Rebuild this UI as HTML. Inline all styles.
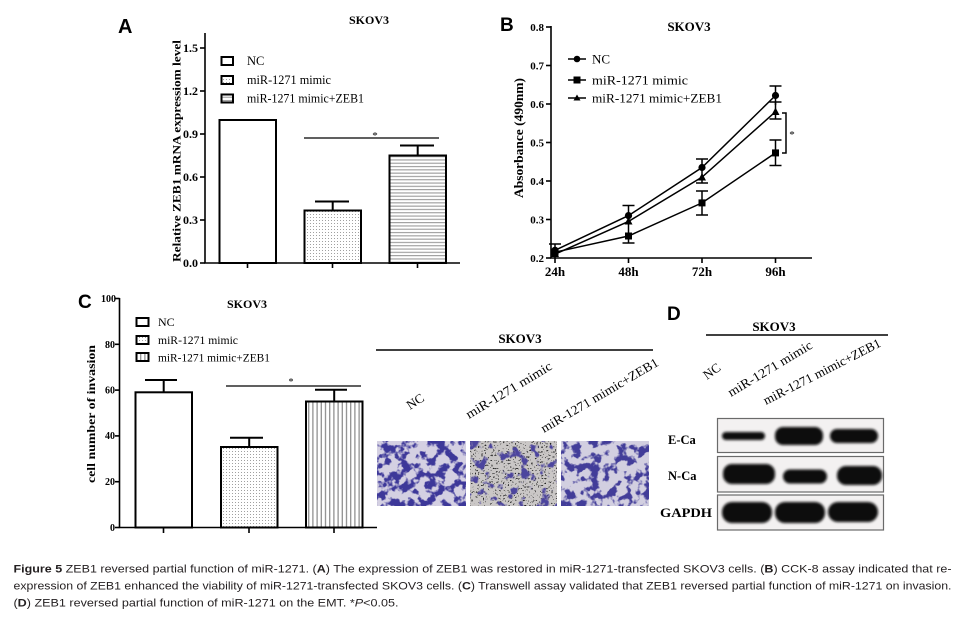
<!DOCTYPE html>
<html><head><meta charset="utf-8"><style>
html,body{margin:0;padding:0;background:#fff;}
svg{display:block;}
.s{font-family:"Liberation Serif",serif;}
.b{font-weight:bold;}
.p{font-family:"Liberation Sans",sans-serif;font-weight:bold;}
</style></head><body>
<svg width="965" height="623" viewBox="0 0 965 623" xmlns="http://www.w3.org/2000/svg">
<defs>
<pattern id="dots" width="3" height="3" patternUnits="userSpaceOnUse"><rect width="3" height="3" fill="#fff"/><rect x="1" y="1" width="1" height="1" fill="#a0a0a0"/></pattern>
<pattern id="hs" width="4" height="3.3" patternUnits="userSpaceOnUse"><rect width="4" height="3.3" fill="#fff"/><rect y="1" width="4" height="1.1" fill="#9a9a9a"/></pattern>
<pattern id="vs" width="4.2" height="4" patternUnits="userSpaceOnUse"><rect width="4.2" height="4" fill="#fff"/><rect x="1.5" width="1.2" height="4" fill="#888"/></pattern>
<filter id="c1" x="0" y="0" width="1" height="1" color-interpolation-filters="sRGB">
<feTurbulence type="fractalNoise" baseFrequency="0.11" numOctaves="3" seed="7"/>
<feColorMatrix type="matrix" values="0 0 0 0 0.24  0 0 0 0 0.22  0 0 0 0 0.6  8 0 0 0 -3.7"/>
</filter>
<filter id="c2" x="0" y="0" width="1" height="1" color-interpolation-filters="sRGB">
<feTurbulence type="fractalNoise" baseFrequency="0.1" numOctaves="3" seed="21"/>
<feColorMatrix type="matrix" values="0 0 0 0 0.3  0 0 0 0 0.27  0 0 0 0 0.62  8 0 0 0 -4.5"/>
</filter>
<filter id="c3" x="0" y="0" width="1" height="1" color-interpolation-filters="sRGB">
<feTurbulence type="fractalNoise" baseFrequency="0.11" numOctaves="3" seed="42"/>
<feColorMatrix type="matrix" values="0 0 0 0 0.26  0 0 0 0 0.24  0 0 0 0 0.6  8 0 0 0 -3.9"/>
</filter>
<filter id="dn" x="0" y="0" width="1" height="1" color-interpolation-filters="sRGB">
<feTurbulence type="fractalNoise" baseFrequency="0.6" numOctaves="1" seed="5"/>
<feColorMatrix type="matrix" values="0 0 0 0 0.15  0 0 0 0 0.15  0 0 0 0 0.15  14 0 0 0 -8.6"/>
</filter>
<filter id="bl" x="-20%" y="-40%" width="140%" height="180%"><feGaussianBlur stdDeviation="1.3"/></filter>
</defs>
<rect width="965" height="623" fill="#fff"/>

<!-- ============ PANEL A ============ -->
<text x="118" y="33" class="p" font-size="20">A</text>
<text x="369" y="24" class="s b" font-size="12" text-anchor="middle">SKOV3</text>
<g stroke="#000" stroke-width="1.6" fill="none">
<line x1="205" y1="33" x2="205" y2="263.5"/>
<line x1="204.2" y1="263" x2="460" y2="263"/>
<line x1="200" y1="263" x2="205" y2="263"/>
<line x1="200" y1="220" x2="205" y2="220"/>
<line x1="200" y1="177" x2="205" y2="177"/>
<line x1="200" y1="134" x2="205" y2="134"/>
<line x1="200" y1="91" x2="205" y2="91"/>
<line x1="200" y1="48" x2="205" y2="48"/>
<line x1="247.5" y1="263" x2="247.5" y2="268"/>
<line x1="332.5" y1="263" x2="332.5" y2="268"/>
<line x1="417.5" y1="263" x2="417.5" y2="268"/>
</g>
<g class="s b" font-size="12" text-anchor="end">
<text x="198" y="267">0.0</text><text x="198" y="224">0.3</text><text x="198" y="181">0.6</text>
<text x="198" y="138">0.9</text><text x="198" y="95">1.2</text><text x="198" y="52">1.5</text>
</g>
<text transform="translate(180.5,151) rotate(-90)" class="s b" font-size="12" text-anchor="middle" textLength="222" lengthAdjust="spacingAndGlyphs">Relative ZEB1 mRNA expressiom level</text>
<g stroke="#000" stroke-width="2">
<rect x="219.5" y="120" width="56.5" height="143" fill="#fff"/>
<rect x="304.5" y="210.5" width="56.5" height="52.5" fill="url(#dots)"/>
<rect x="389.5" y="155.5" width="56.5" height="107.5" fill="url(#hs)"/>
<line x1="332.7" y1="210.5" x2="332.7" y2="201.5"/><line x1="315" y1="201.5" x2="349" y2="201.5"/>
<line x1="417.7" y1="155.5" x2="417.7" y2="145.5"/><line x1="400" y1="145.5" x2="434" y2="145.5"/>
</g>
<line x1="304" y1="138" x2="439" y2="138" stroke="#000" stroke-width="1.2"/>
<text x="375" y="139" class="s" font-size="11" text-anchor="middle">*</text>
<g stroke="#000" stroke-width="2">
<rect x="221.5" y="57" width="11.5" height="8" fill="#fff"/>
<rect x="221.5" y="76" width="11.5" height="8" fill="url(#dots)"/>
<rect x="221.5" y="94.5" width="11.5" height="8" fill="url(#hs)"/>
</g>
<g class="s" font-size="12.5">
<text x="247" y="65">NC</text>
<text x="247" y="84" textLength="84" lengthAdjust="spacingAndGlyphs">miR-1271 mimic</text>
<text x="247" y="102.5" textLength="117" lengthAdjust="spacingAndGlyphs">miR-1271 mimic+ZEB1</text>
</g>

<!-- ============ PANEL B ============ -->
<text x="500" y="31" class="p" font-size="19">B</text>
<text x="689" y="31" class="s b" font-size="13" text-anchor="middle">SKOV3</text>
<g stroke="#000" stroke-width="1.6" fill="none">
<line x1="551" y1="26" x2="551" y2="258.5"/>
<line x1="550.2" y1="258" x2="812" y2="258"/>
<line x1="546" y1="258" x2="551" y2="258"/>
<line x1="546" y1="219.5" x2="551" y2="219.5"/>
<line x1="546" y1="181" x2="551" y2="181"/>
<line x1="546" y1="142.5" x2="551" y2="142.5"/>
<line x1="546" y1="104" x2="551" y2="104"/>
<line x1="546" y1="65.5" x2="551" y2="65.5"/>
<line x1="546" y1="27" x2="551" y2="27"/>
<line x1="555" y1="258" x2="555" y2="263"/>
<line x1="628.5" y1="258" x2="628.5" y2="263"/>
<line x1="702" y1="258" x2="702" y2="263"/>
<line x1="775.5" y1="258" x2="775.5" y2="263"/>
</g>
<g class="s b" font-size="11" text-anchor="end">
<text x="544" y="262">0.2</text><text x="544" y="223.5">0.3</text><text x="544" y="185">0.4</text>
<text x="544" y="146.5">0.5</text><text x="544" y="108">0.6</text><text x="544" y="69.5">0.7</text><text x="544" y="31">0.8</text>
</g>
<g class="s b" font-size="13" text-anchor="middle">
<text x="555" y="276">24h</text><text x="628.5" y="276">48h</text><text x="702" y="276">72h</text><text x="775.5" y="276">96h</text>
</g>
<text transform="translate(523,138) rotate(-90)" class="s b" font-size="13" text-anchor="middle" textLength="120" lengthAdjust="spacingAndGlyphs">Absorbance (490nm)</text>
<g stroke="#000" stroke-width="1.5" fill="none">
<polyline points="555,250.3 628.5,215.6 702,167.5 775.5,95.5"/>
<polyline points="555,252.2 628.5,236 702,202.9 775.5,152.9"/>
<polyline points="555,254.2 628.5,221.4 702,177.2 775.5,111.7"/>
<line x1="775.5" y1="86" x2="775.5" y2="105"/><line x1="769.5" y1="86" x2="781.5" y2="86"/>
<line x1="775.5" y1="102" x2="775.5" y2="119"/><line x1="769.5" y1="102" x2="781.5" y2="102"/><line x1="769.5" y1="119" x2="781.5" y2="119"/>
<line x1="775.5" y1="140" x2="775.5" y2="165.5"/><line x1="769.5" y1="140" x2="781.5" y2="140"/><line x1="769.5" y1="165.5" x2="781.5" y2="165.5"/>
<line x1="702" y1="159" x2="702" y2="183"/><line x1="696" y1="159" x2="708" y2="159"/><line x1="696" y1="183" x2="708" y2="183"/>
<line x1="702" y1="191" x2="702" y2="215"/><line x1="696" y1="191" x2="708" y2="191"/><line x1="696" y1="215" x2="708" y2="215"/>
<line x1="628.5" y1="205.5" x2="628.5" y2="243"/><line x1="622.5" y1="205.5" x2="634.5" y2="205.5"/><line x1="622.5" y1="243" x2="634.5" y2="243"/>
<line x1="555" y1="244" x2="555" y2="258"/><line x1="549" y1="244" x2="561" y2="244"/>
<polyline points="782,113 786,113 786,153 782,153"/>
</g>
<text x="792" y="138" class="s" font-size="11" text-anchor="middle">*</text>
<g fill="#000">
<circle cx="555" cy="250.3" r="3.6"/><circle cx="628.5" cy="215.6" r="3.6"/><circle cx="702" cy="167.5" r="3.6"/><circle cx="775.5" cy="95.5" r="3.6"/>
<rect x="551.5" y="248.7" width="7" height="7"/><rect x="625" y="232.5" width="7" height="7"/><rect x="698.5" y="199.4" width="7" height="7"/><rect x="772" y="149.4" width="7" height="7"/>
<polygon points="555,250 551,257 559,257"/><polygon points="628.5,217 624.5,224.5 632.5,224.5"/><polygon points="702,173 698,180.5 706,180.5"/><polygon points="775.5,107.5 771.5,115 779.5,115"/>
</g>
<g stroke="#000" stroke-width="1.5">
<line x1="568" y1="59" x2="586" y2="59"/><line x1="568" y1="80" x2="586" y2="80"/><line x1="568" y1="98" x2="586" y2="98"/>
</g>
<g fill="#000">
<circle cx="577" cy="59" r="3.3"/><rect x="573.5" y="76.5" width="7" height="7"/><polygon points="577,94.5 573.5,100.5 580.5,100.5"/>
</g>
<g class="s" font-size="13">
<text x="592" y="63.5">NC</text>
<text x="592" y="84.5" textLength="96" lengthAdjust="spacingAndGlyphs">miR-1271 mimic</text>
<text x="592" y="102.5" textLength="130" lengthAdjust="spacingAndGlyphs">miR-1271 mimic+ZEB1</text>
</g>

<!-- ============ PANEL C chart ============ -->
<text x="78" y="308" class="p" font-size="19">C</text>
<text x="247" y="308" class="s b" font-size="12" text-anchor="middle">SKOV3</text>
<g stroke="#000" stroke-width="1.6" fill="none">
<line x1="119.5" y1="298" x2="119.5" y2="528"/>
<line x1="118.7" y1="527.5" x2="377" y2="527.5"/>
<line x1="115" y1="527.5" x2="119.5" y2="527.5"/>
<line x1="115" y1="481.7" x2="119.5" y2="481.7"/>
<line x1="115" y1="435.9" x2="119.5" y2="435.9"/>
<line x1="115" y1="390.1" x2="119.5" y2="390.1"/>
<line x1="115" y1="344.3" x2="119.5" y2="344.3"/>
<line x1="115" y1="298.5" x2="119.5" y2="298.5"/>
<line x1="163.5" y1="527.5" x2="163.5" y2="533"/>
<line x1="249" y1="527.5" x2="249" y2="533"/>
<line x1="334" y1="527.5" x2="334" y2="533"/>
</g>
<g class="s b" font-size="10" text-anchor="end">
<text x="115" y="531">0</text><text x="115" y="485">20</text><text x="115" y="439">40</text>
<text x="115" y="393.5">60</text><text x="115" y="348">80</text><text x="116" y="302">100</text>
</g>
<text transform="translate(95,414) rotate(-90)" class="s b" font-size="12" text-anchor="middle" textLength="138" lengthAdjust="spacingAndGlyphs">cell number of invasion</text>
<g stroke="#000" stroke-width="2">
<rect x="135.5" y="392.3" width="56.5" height="135.2" fill="#fff"/>
<rect x="221" y="447" width="56.5" height="80.5" fill="url(#dots)"/>
<rect x="306" y="401.5" width="56.5" height="126" fill="url(#vs)"/>
<line x1="163.7" y1="392.3" x2="163.7" y2="380"/><line x1="145" y1="380" x2="177" y2="380"/>
<line x1="249.2" y1="447" x2="249.2" y2="437.7"/><line x1="230" y1="437.7" x2="263" y2="437.7"/>
<line x1="334.2" y1="401.5" x2="334.2" y2="389.7"/><line x1="315" y1="389.7" x2="347" y2="389.7"/>
</g>
<line x1="226" y1="386" x2="361" y2="386" stroke="#000" stroke-width="1.2"/>
<text x="291" y="385" class="s" font-size="10" text-anchor="middle">*</text>
<g stroke="#000" stroke-width="2">
<rect x="136.5" y="318" width="12" height="8" fill="#fff"/>
<rect x="136.5" y="336" width="12" height="8" fill="url(#dots)"/>
<rect x="136.5" y="353" width="12" height="8" fill="url(#vs)"/>
</g>
<g class="s" font-size="12">
<text x="158" y="326">NC</text>
<text x="158" y="344" textLength="80" lengthAdjust="spacingAndGlyphs">miR-1271 mimic</text>
<text x="158" y="361.5" textLength="112" lengthAdjust="spacingAndGlyphs">miR-1271 mimic+ZEB1</text>
</g>

<!-- ============ PANEL C images ============ -->
<text x="520" y="343" class="s b" font-size="13" text-anchor="middle">SKOV3</text>
<line x1="376" y1="350" x2="653" y2="350" stroke="#000" stroke-width="1.5"/>
<g class="s" font-size="13">
<text transform="translate(410,410) rotate(-33)">NC</text>
<text transform="translate(469,419) rotate(-31)" textLength="98" lengthAdjust="spacingAndGlyphs">miR-1271 mimic</text>
<text transform="translate(544,433) rotate(-30.5)" textLength="134" lengthAdjust="spacingAndGlyphs">miR-1271 mimic+ZEB1</text>
</g>
<rect x="377" y="441" width="89" height="65" fill="#d4d0e2"/>
<rect x="377" y="441" width="89" height="65" filter="url(#c1)"/>
<rect x="470" y="441" width="87" height="65" fill="#cac7c6"/>
<rect x="470" y="441" width="87" height="65" filter="url(#dn)"/>
<rect x="470" y="441" width="87" height="65" filter="url(#c2)"/>
<rect x="561" y="441" width="88" height="65" fill="#d2cfe0"/>
<rect x="561" y="441" width="88" height="65" filter="url(#c3)"/>

<!-- ============ PANEL D ============ -->
<text x="667" y="320" class="p" font-size="19">D</text>
<text x="774" y="331" class="s b" font-size="13" text-anchor="middle">SKOV3</text>
<line x1="706" y1="335" x2="888" y2="335" stroke="#000" stroke-width="1.5"/>
<g class="s" font-size="13">
<text transform="translate(707,380) rotate(-36)">NC</text>
<text transform="translate(731,397) rotate(-31)" textLength="96" lengthAdjust="spacingAndGlyphs">miR-1271 mimic</text>
<text transform="translate(766,405) rotate(-27)" textLength="130" lengthAdjust="spacingAndGlyphs">miR-1271 mimic+ZEB1</text>
</g>
<g fill="#f3f1f1" stroke="#6a6a6a" stroke-width="1.2">
<rect x="717.5" y="418.5" width="166" height="34"/>
<rect x="717.5" y="456.5" width="166" height="35.5"/>
<rect x="717.5" y="495" width="166" height="35"/>
</g>
<g fill="#0a0a0a" filter="url(#bl)">
<rect x="722" y="432" width="43" height="8" rx="4"/>
<rect x="775" y="427" width="48" height="18" rx="8"/>
<rect x="830" y="429" width="48" height="14" rx="7"/>
<rect x="723" y="464" width="52" height="20" rx="9"/>
<rect x="783" y="469.5" width="44" height="14" rx="7"/>
<rect x="837" y="466" width="45" height="19" rx="9"/>
<rect x="722" y="502" width="50" height="21" rx="10"/>
<rect x="775" y="502" width="50" height="21" rx="10"/>
<rect x="828" y="502" width="50" height="20" rx="10"/>
</g>
<g class="s b" font-size="12.5">
<text x="668" y="444">E-Ca</text>
<text x="668" y="480">N-Ca</text>
<text x="660" y="517" textLength="52" lengthAdjust="spacingAndGlyphs">GAPDH</text>
</g>

<!-- ============ CAPTION ============ -->
<g font-family="'Liberation Sans Narrow','Liberation Sans',sans-serif" font-size="11.3" fill="#231f20">
<text x="13.5" y="572.7" textLength="938" lengthAdjust="spacingAndGlyphs"><tspan font-weight="bold">Figure 5</tspan> ZEB1 reversed partial function of miR-1271. (<tspan font-weight="bold">A</tspan>) The expression of ZEB1 was restored in miR-1271-transfected SKOV3 cells. (<tspan font-weight="bold">B</tspan>) CCK-8 assay indicated that re-</text>
<text x="13.5" y="589.5" textLength="938" lengthAdjust="spacingAndGlyphs">expression of ZEB1 enhanced the viability of miR-1271-transfected SKOV3 cells. (<tspan font-weight="bold">C</tspan>) Transwell assay validated that ZEB1 reversed partial function of miR-1271 on invasion.</text>
<text x="13.5" y="606.7" textLength="385" lengthAdjust="spacingAndGlyphs">(<tspan font-weight="bold">D</tspan>) ZEB1 reversed partial function of miR-1271 on the EMT. *<tspan font-style="italic">P</tspan>&lt;0.05.</text>
</g>
</svg>
</body></html>
